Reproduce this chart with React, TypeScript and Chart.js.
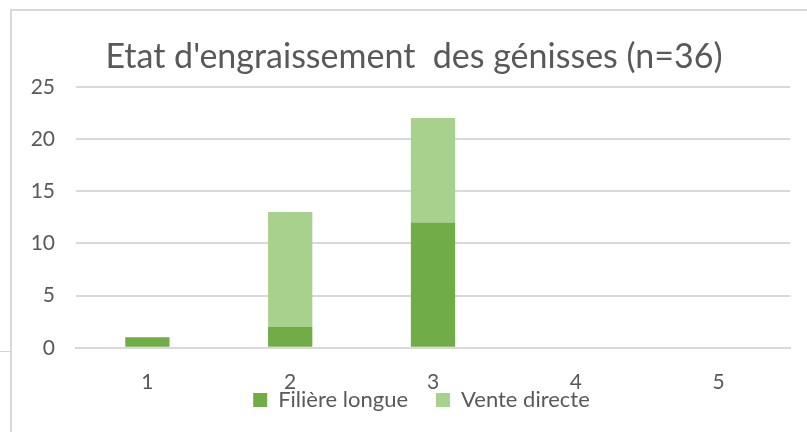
import React, { useEffect, useRef } from "react";
import { Chart, registerables } from "chart.js";

Chart.register(...registerables);

const categories = ["1", "2", "3", "4", "5"];
const filiereLongue = [1, 2, 12, 0, 0];
const venteDirecte = [0, 11, 10, 0, 0];
const titleText = "Etat d'engraissement  des génisses (n=36)";
const seriesNames = ["Filière longue", "Vente directe"];

const FONT = "Lato, 'Open Sans', sans-serif";
const TEXT = "#595959";

const shiftPlugin = {
  id: "shiftBlocks",
  afterLayout(chart: any) {
    const area = chart.chartArea;
    const t = chart.titleBlock;
    if (t) {
      t.left = 38;
      t.right = 790;
    }
    const l = chart.legend;
    if (l) {
      const pad = l.options.labels.padding;
      const center = (area.left + area.right) / 2;
      l.left = 2 * center - pad - area.right + 4;
      l.right = area.right + 1;
      l.top = 400 - pad - 11;
      l.bottom = 432;
      l.height = l.bottom - l.top;
      l.width = l.right - l.left;
    }
  },
};

export default function App() {
  const ref = useRef<HTMLCanvasElement | null>(null);
  useEffect(() => {
    if (!ref.current) return;
    const chart = new Chart(ref.current, {
      type: "bar",
      data: {
        labels: categories,
        datasets: [
          {
            label: seriesNames[0],
            data: filiereLongue,
            backgroundColor: "#70ad47",
            borderWidth: 0,
            categoryPercentage: 0.31,
            barPercentage: 1,
          },
          {
            label: seriesNames[1],
            data: venteDirecte,
            backgroundColor: "#a9d18e",
            borderWidth: 0,
            categoryPercentage: 0.31,
            barPercentage: 1,
          },
        ],
      },
      plugins: [shiftPlugin],
      options: {
        animation: false,
        responsive: false,
        maintainAspectRatio: false,
        layout: { padding: { left: 0, right: 17, top: 0, bottom: -23 } },
        plugins: {
          title: {
            display: true,
            text: titleText,
            color: TEXT,
            font: { family: FONT, size: 34, weight: "normal" },
            padding: { top: 37, bottom: 9 },
          },
          legend: {
            position: "bottom",
            maxHeight: 38,
            labels: {
              color: TEXT,
              font: { family: FONT, size: 22 },
              boxWidth: 14,
              boxHeight: 14,
              padding: 28,
            },
          },
          tooltip: { enabled: false },
        },
        scales: {
          x: {
            stacked: true,
            grid: { display: false, drawTicks: false },
            border: { display: true, color: "#d9d9d9", width: 2 },
            ticks: {
              color: TEXT,
              font: { family: FONT, size: 21 },
              padding: 22,
              maxRotation: 0,
            },
          },
          y: {
            stacked: true,
            min: 0,
            max: 25,
            afterFit: (scale: any) => {
              scale.width = 76;
            },
            grid: { color: "#d9d9d9", lineWidth: 2, drawTicks: false },
            border: { display: false },
            ticks: {
              stepSize: 5,
              color: TEXT,
              font: { family: FONT, size: 21 },
              padding: 21,
            },
          },
        },
      },
    } as any);
    return () => chart.destroy();
  }, []);

  return (
    <div style={{ position: "fixed", left: 0, top: 0, width: 807, height: 432, background: "#fff", overflow: "hidden" }}>
      <canvas ref={ref} width={807} height={432} style={{ position: "absolute", left: 0, top: 0 }} />
      <div style={{ position: "absolute", left: 10, top: 9, width: 797, height: 423, borderTop: "2px solid #d9d9d9", borderLeft: "2px solid #d9d9d9", boxSizing: "border-box", pointerEvents: "none" }} />
      <div style={{ position: "absolute", left: 0, top: 351, width: 10, height: 1, background: "#f8cbad" }} />
    </div>
  );
}
